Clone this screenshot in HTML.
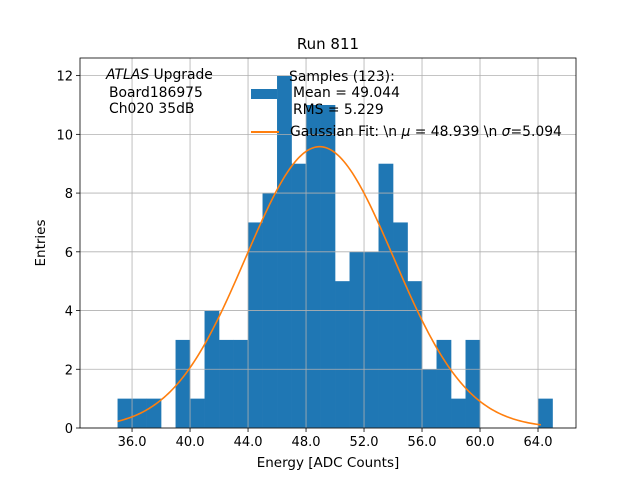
<!DOCTYPE html>
<html><head><meta charset="utf-8"><style>
body{margin:0;background:#fff}
svg text{font-family:"DejaVu Sans","Liberation Sans",sans-serif;fill:#000}
</style></head><body>
<svg id="c" width="640" height="480" xmlns="http://www.w3.org/2000/svg">
<rect width="640" height="480" fill="#fff"/>
<g id="bars"></g><g id="grid"></g><g id="curve"></g><g id="axes"></g>
<text x="328" y="49" font-size="15" text-anchor="middle">Run 811</text>
<text x="328" y="467" font-size="13.5" text-anchor="middle">Energy [ADC Counts]</text>
<text transform="translate(45,243) rotate(-90)" font-size="13.5" text-anchor="middle">Entries</text>
<g font-size="13.9">
<text x="106" y="79"><tspan font-style="italic">ATLAS</tspan> Upgrade</text>
<text x="109" y="97">Board186975</text>
<text x="109" y="113">Ch020 35dB</text>
</g>
<g font-size="13.9">
<rect x="251" y="89" width="26" height="10" fill="#1f77b4"/>
<text x="289" y="81">Samples (123):</text>
<text x="293" y="97">Mean = 49.044</text>
<text x="293" y="114">RMS = 5.229</text>
<line x1="251" y1="132" x2="279" y2="132" stroke="#ff7f0e" stroke-width="2"/>
<text x="290" y="136">Gaussian Fit: \n <tspan font-style="italic">μ</tspan> = 48.939 \n <tspan font-style="italic">σ</tspan>=5.094</text>
</g>
</svg>
<script>
const binStart = 35, binWidth = 1;
const counts = [1,1,1,0,3,1,4,3,3,7,8,12,9,11,11,5,6,6,9,7,5,2,3,1,3,0,0,0,0,1];
const xTicks = [36,40,44,48,52,56,60,64];
const yTicks = [0,2,4,6,8,10,12];
const fitAmp = [9.58], fitMu = [48.939], fitSigma = [5.094], fitRange = [35.0, 64.2];
const L=80,R=576,T=58,B=428, xmin=32.41, xmax=66.62, ymin=0, ymax=12.6;
const sx=v=>L+(v-xmin)/(xmax-xmin)*(R-L);
const sy=v=>B-(v-ymin)/(ymax-ymin)*(B-T);
const NS="http://www.w3.org/2000/svg";
function mk(t,a,p){const e=document.createElementNS(NS,t);for(const k in a)e.setAttribute(k,a[k]);p.appendChild(e);return e;}
const gb=document.getElementById('bars'),gg=document.getElementById('grid'),gc=document.getElementById('curve'),ga=document.getElementById('axes');
counts.forEach((c,i)=>{if(!c)return;const x0=sx(binStart+i*binWidth),x1=sx(binStart+(i+1)*binWidth);
const r=mk('rect',{x:x0,y:sy(c),width:x1-x0+0.3,height:sy(0)-sy(c),fill:'#1f77b4'},gb);

});
xTicks.forEach(t=>{const x=sx(t);mk('line',{x1:x,x2:x,y1:T,y2:B,stroke:'#b0b0b0','stroke-width':0.8},gg);
mk('line',{x1:x,x2:x,y1:B,y2:B+4,stroke:'#000','stroke-width':0.8},ga);
const tx=mk('text',{x:x,y:B+18,'font-size':13,'text-anchor':'middle'},ga);tx.textContent=t.toFixed(1);

});
yTicks.forEach(t=>{const y=sy(t);mk('line',{x1:L,x2:R,y1:y,y2:y,stroke:'#b0b0b0','stroke-width':0.8},gg);
mk('line',{x1:L-4,x2:L,y1:y,y2:y,stroke:'#000','stroke-width':0.8},ga);
const tx=mk('text',{x:L-7,y:y+5,'font-size':13,'text-anchor':'end'},ga);tx.textContent=t;

});
let d='';for(let i=0;i<=200;i++){const v=fitRange[0]+(fitRange[1]-fitRange[0])*i/200;
const f=fitAmp[0]*Math.exp(-Math.pow(v-fitMu[0],2)/(2*fitSigma[0]*fitSigma[0]));d+=(i?'L':'M')+sx(v).toFixed(2)+' '+sy(f).toFixed(2);}
const p=mk('path',{d:d,fill:'none',stroke:'#ff7f0e','stroke-width':1.6},gc);


const fr=mk('rect',{x:L,y:T,width:R-L,height:B-T,fill:'none',stroke:'#000','stroke-width':0.8},ga);


</script>
</body></html>
